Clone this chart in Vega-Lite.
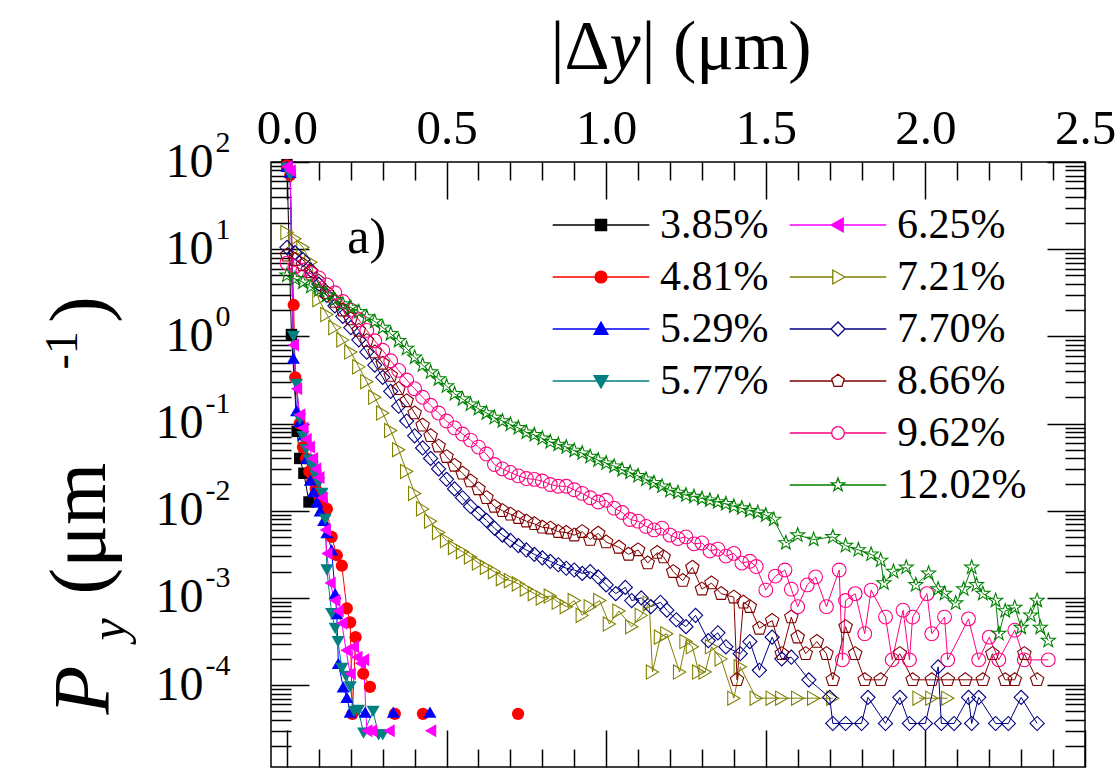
{
"$schema": "https://vega.github.io/schema/vega-lite/v6.json",
"width": 814, "height": 605,
"autosize": {"type": "none"},
"padding": {"left": 271, "top": 162, "right": 35, "bottom": 3},
"background": "white",
"config": {
  "view": {"stroke": "black", "strokeWidth": 1.5},
  "font": "Liberation Serif",
  "axis": {"grid": false, "domain": false, "labelFont": "Liberation Serif", "titleFont": "Liberation Serif", "labelColor": "black", "titleColor": "black", "tickColor": "black", "titleFontWeight": "normal"}
},
"data": {"values": [
{"s":"3.85%","x":0,"y":93.3},{"s":"3.85%","x":0.014,"y":1.05},{"s":"3.85%","x":0.032,"y":0.0813},{"s":"3.85%","x":0.04,"y":0.0398},{"s":"3.85%","x":0.053,"y":0.0269},{"s":"3.85%","x":0.069,"y":0.0126},
{"s":"4.81%","x":0,"y":91.2},{"s":"4.81%","x":0.01,"y":70.8},{"s":"4.81%","x":0.021,"y":2.29},{"s":"4.81%","x":0.026,"y":0.339},{"s":"4.81%","x":0.04,"y":0.1},{"s":"4.81%","x":0.05,"y":0.0537},{"s":"4.81%","x":0.06,"y":0.0398},{"s":"4.81%","x":0.07,"y":0.0282},{"s":"4.81%","x":0.08,"y":0.0224},{"s":"4.81%","x":0.09,"y":0.0178},{"s":"4.81%","x":0.1,"y":0.0151},{"s":"4.81%","x":0.11,"y":0.0126},{"s":"4.81%","x":0.125,"y":0.0105},{"s":"4.81%","x":0.14,"y":0.00501},{"s":"4.81%","x":0.156,"y":0.00309},{"s":"4.81%","x":0.172,"y":0.00234},{"s":"4.81%","x":0.1875,"y":0.000759},{"s":"4.81%","x":0.198,"y":0.000525},{"s":"4.81%","x":0.205,"y":0.0000468},{"s":"4.81%","x":0.215,"y":0.000355},{"s":"4.81%","x":0.239,"y":0.000135},{"s":"4.81%","x":0.26,"y":0.0000955},{"s":"4.81%","x":0.3,"y":null},{"s":"4.81%","x":0.338,"y":0.0000468},{"s":"4.81%","x":0.38,"y":null},{"s":"4.81%","x":0.426,"y":0.0000468},{"s":"4.81%","x":0.6,"y":null},{"s":"4.81%","x":0.724,"y":0.0000468},
{"s":"5.29%","x":0,"y":89.1},{"s":"5.29%","x":0.01,"y":75.9},{"s":"5.29%","x":0.02,"y":0.562},{"s":"5.29%","x":0.03,"y":0.141},{"s":"5.29%","x":0.04,"y":0.105},{"s":"5.29%","x":0.052,"y":0.0741},{"s":"5.29%","x":0.062,"y":0.0398},{"s":"5.29%","x":0.073,"y":0.0224},{"s":"5.29%","x":0.083,"y":0.0166},{"s":"5.29%","x":0.094,"y":0.0126},{"s":"5.29%","x":0.104,"y":0.01},{"s":"5.29%","x":0.115,"y":0.00776},{"s":"5.29%","x":0.125,"y":0.00562},{"s":"5.29%","x":0.14,"y":0.00355},{"s":"5.29%","x":0.151,"y":0.00112},{"s":"5.29%","x":0.156,"y":0.000661},{"s":"5.29%","x":0.161,"y":0.000178},{"s":"5.29%","x":0.176,"y":0.0000955},{"s":"5.29%","x":0.1875,"y":0.0000724},{"s":"5.29%","x":0.198,"y":0.000049},{"s":"5.29%","x":0.245,"y":0.000049},{"s":"5.29%","x":0.29,"y":null},{"s":"5.29%","x":0.333,"y":0.000049},{"s":"5.29%","x":0.39,"y":null},{"s":"5.29%","x":0.448,"y":0.000049},
{"s":"5.77%","x":0,"y":85.1},{"s":"5.77%","x":0.01,"y":70.8},{"s":"5.77%","x":0.02,"y":1.0},{"s":"5.77%","x":0.03,"y":0.282},{"s":"5.77%","x":0.04,"y":0.112},{"s":"5.77%","x":0.05,"y":0.0708},{"s":"5.77%","x":0.06,"y":0.0501},{"s":"5.77%","x":0.07,"y":0.038},{"s":"5.77%","x":0.08,"y":0.0316},{"s":"5.77%","x":0.09,"y":0.0251},{"s":"5.77%","x":0.1,"y":0.0209},{"s":"5.77%","x":0.11,"y":0.0158},{"s":"5.77%","x":0.12,"y":0.00794},{"s":"5.77%","x":0.125,"y":0.00209},{"s":"5.77%","x":0.14,"y":0.000661},{"s":"5.77%","x":0.151,"y":0.000447},{"s":"5.77%","x":0.16,"y":0.000316},{"s":"5.77%","x":0.172,"y":0.000155},{"s":"5.77%","x":0.185,"y":0.000126},{"s":"5.77%","x":0.198,"y":0.0000955},{"s":"5.77%","x":0.21,"y":0.0000501},{"s":"5.77%","x":0.224,"y":0.0000513},{"s":"5.77%","x":0.24,"y":0.0000282},{"s":"5.77%","x":0.27,"y":0.0000501},{"s":"5.77%","x":0.287,"y":0.0000269},{"s":"5.77%","x":0.3,"y":0.0000269},
{"s":"6.25%","x":0,"y":89},{"s":"6.25%","x":0.01,"y":79.4},{"s":"6.25%","x":0.02,"y":0.794},{"s":"6.25%","x":0.03,"y":0.251},{"s":"6.25%","x":0.04,"y":0.126},{"s":"6.25%","x":0.05,"y":0.0891},{"s":"6.25%","x":0.06,"y":0.0661},{"s":"6.25%","x":0.07,"y":0.0537},{"s":"6.25%","x":0.08,"y":0.0398},{"s":"6.25%","x":0.09,"y":0.0302},{"s":"6.25%","x":0.1,"y":0.024},{"s":"6.25%","x":0.11,"y":0.0141},{"s":"6.25%","x":0.12,"y":0.00603},{"s":"6.25%","x":0.125,"y":0.00324},{"s":"6.25%","x":0.135,"y":0.00148},{"s":"6.25%","x":0.15,"y":0.000933},{"s":"6.25%","x":0.16,"y":0.000708},{"s":"6.25%","x":0.172,"y":0.000513},{"s":"6.25%","x":0.185,"y":0.000251},{"s":"6.25%","x":0.198,"y":0.000135},{"s":"6.25%","x":0.208,"y":0.000275},{"s":"6.25%","x":0.219,"y":0.000209},{"s":"6.25%","x":0.23,"y":0.000178},{"s":"6.25%","x":0.24,"y":0.000195},{"s":"6.25%","x":0.25,"y":0.00003},{"s":"6.25%","x":0.265,"y":0.00003},{"s":"6.25%","x":0.29,"y":null},{"s":"6.25%","x":0.32,"y":0.00003},{"s":"6.25%","x":0.38,"y":null},{"s":"6.25%","x":0.45,"y":0.00003},
{"s":"7.21%","x":0,"y":15.5},{"s":"7.21%","x":0.025,"y":13.2},{"s":"7.21%","x":0.05,"y":10.5},{"s":"7.21%","x":0.075,"y":7.08},{"s":"7.21%","x":0.1,"y":2.63},{"s":"7.21%","x":0.125,"y":1.78},{"s":"7.21%","x":0.15,"y":1.26},{"s":"7.21%","x":0.175,"y":0.912},{"s":"7.21%","x":0.2,"y":0.661},{"s":"7.21%","x":0.225,"y":0.447},{"s":"7.21%","x":0.25,"y":0.302},{"s":"7.21%","x":0.275,"y":0.2},{"s":"7.21%","x":0.3,"y":0.132},{"s":"7.21%","x":0.325,"y":0.0832},{"s":"7.21%","x":0.35,"y":0.0501},{"s":"7.21%","x":0.375,"y":0.0282},{"s":"7.21%","x":0.4,"y":0.0158},{"s":"7.21%","x":0.425,"y":0.0105},{"s":"7.21%","x":0.45,"y":0.00759},{"s":"7.21%","x":0.475,"y":0.00562},{"s":"7.21%","x":0.5,"y":0.00457},{"s":"7.21%","x":0.525,"y":0.0038},{"s":"7.21%","x":0.55,"y":0.00339},{"s":"7.21%","x":0.575,"y":0.00295},{"s":"7.21%","x":0.6,"y":0.00251},{"s":"7.21%","x":0.625,"y":0.00224},{"s":"7.21%","x":0.65,"y":0.002},{"s":"7.21%","x":0.675,"y":0.00166},{"s":"7.21%","x":0.7,"y":0.00158},{"s":"7.21%","x":0.725,"y":0.00145},{"s":"7.21%","x":0.75,"y":0.00126},{"s":"7.21%","x":0.775,"y":0.00112},{"s":"7.21%","x":0.8,"y":0.001},{"s":"7.21%","x":0.825,"y":0.00105},{"s":"7.21%","x":0.85,"y":0.000891},{"s":"7.21%","x":0.875,"y":0.000794},{"s":"7.21%","x":0.9,"y":0.000933},{"s":"7.21%","x":0.925,"y":0.000631},{"s":"7.21%","x":0.95,"y":0.000794},{"s":"7.21%","x":0.98,"y":0.000933},{"s":"7.21%","x":1.01,"y":0.000501},{"s":"7.21%","x":1.04,"y":0.000708},{"s":"7.21%","x":1.08,"y":0.000468},{"s":"7.21%","x":1.11,"y":0.000631},{"s":"7.21%","x":1.135,"y":0.000871},{"s":"7.21%","x":1.145,"y":0.000141},{"s":"7.21%","x":1.17,"y":0.000355},{"s":"7.21%","x":1.19,"y":0.000389},{"s":"7.21%","x":1.23,"y":0.000141},{"s":"7.21%","x":1.25,"y":0.000316},{"s":"7.21%","x":1.27,"y":0.000275},{"s":"7.21%","x":1.29,"y":0.000141},{"s":"7.21%","x":1.31,"y":0.000141},{"s":"7.21%","x":1.33,"y":0.000275},{"s":"7.21%","x":1.36,"y":0.0002},{"s":"7.21%","x":1.4,"y":0.0000708},{"s":"7.21%","x":1.42,"y":0.000162},{"s":"7.21%","x":1.47,"y":0.0000708},{"s":"7.21%","x":1.52,"y":0.0000708},{"s":"7.21%","x":1.55,"y":0.0000708},{"s":"7.21%","x":1.6,"y":0.0000708},{"s":"7.21%","x":1.65,"y":0.0000708},{"s":"7.21%","x":1.71,"y":0.0000708},{"s":"7.21%","x":1.8,"y":null},{"s":"7.21%","x":1.98,"y":0.0000708},{"s":"7.21%","x":2.02,"y":0.0000708},{"s":"7.21%","x":2.07,"y":0.0000708},
{"s":"7.70%","x":0,"y":10.5},{"s":"7.70%","x":0.025,"y":9.12},{"s":"7.70%","x":0.05,"y":7.59},{"s":"7.70%","x":0.075,"y":5.75},{"s":"7.70%","x":0.1,"y":3.98},{"s":"7.70%","x":0.125,"y":2.95},{"s":"7.70%","x":0.15,"y":2.24},{"s":"7.70%","x":0.175,"y":1.7},{"s":"7.70%","x":0.2,"y":1.26},{"s":"7.70%","x":0.225,"y":0.912},{"s":"7.70%","x":0.25,"y":0.661},{"s":"7.70%","x":0.275,"y":0.468},{"s":"7.70%","x":0.3,"y":0.339},{"s":"7.70%","x":0.325,"y":0.234},{"s":"7.70%","x":0.35,"y":0.158},{"s":"7.70%","x":0.375,"y":0.107},{"s":"7.70%","x":0.4,"y":0.0724},{"s":"7.70%","x":0.425,"y":0.0525},{"s":"7.70%","x":0.45,"y":0.0398},{"s":"7.70%","x":0.475,"y":0.0302},{"s":"7.70%","x":0.5,"y":0.0229},{"s":"7.70%","x":0.525,"y":0.0178},{"s":"7.70%","x":0.55,"y":0.0141},{"s":"7.70%","x":0.575,"y":0.0112},{"s":"7.70%","x":0.6,"y":0.00933},{"s":"7.70%","x":0.625,"y":0.00776},{"s":"7.70%","x":0.65,"y":0.00631},{"s":"7.70%","x":0.675,"y":0.00525},{"s":"7.70%","x":0.7,"y":0.00457},{"s":"7.70%","x":0.725,"y":0.00398},{"s":"7.70%","x":0.75,"y":0.00355},{"s":"7.70%","x":0.775,"y":0.00316},{"s":"7.70%","x":0.8,"y":0.00288},{"s":"7.70%","x":0.825,"y":0.00263},{"s":"7.70%","x":0.85,"y":0.0024},{"s":"7.70%","x":0.875,"y":0.00219},{"s":"7.70%","x":0.9,"y":0.00209},{"s":"7.70%","x":0.925,"y":0.00191},{"s":"7.70%","x":0.95,"y":0.002},{"s":"7.70%","x":0.975,"y":0.00174},{"s":"7.70%","x":1.0,"y":0.00141},{"s":"7.70%","x":1.03,"y":0.00112},{"s":"7.70%","x":1.06,"y":0.00132},{"s":"7.70%","x":1.08,"y":0.000933},{"s":"7.70%","x":1.11,"y":0.001},{"s":"7.70%","x":1.14,"y":0.000794},{"s":"7.70%","x":1.17,"y":0.000891},{"s":"7.70%","x":1.19,"y":0.000724},{"s":"7.70%","x":1.22,"y":0.000562},{"s":"7.70%","x":1.25,"y":0.000468},{"s":"7.70%","x":1.28,"y":0.000631},{"s":"7.70%","x":1.32,"y":0.000324},{"s":"7.70%","x":1.35,"y":0.000398},{"s":"7.70%","x":1.375,"y":0.000275},{"s":"7.70%","x":1.42,"y":0.000229},{"s":"7.70%","x":1.45,"y":0.000316},{"s":"7.70%","x":1.48,"y":0.000148},{"s":"7.70%","x":1.52,"y":0.000355},{"s":"7.70%","x":1.55,"y":0.0002},{"s":"7.70%","x":1.58,"y":0.000209},{"s":"7.70%","x":1.635,"y":0.000115},{"s":"7.70%","x":1.7,"y":0.0000724},{"s":"7.70%","x":1.71,"y":0.0000363},{"s":"7.70%","x":1.75,"y":0.0000363},{"s":"7.70%","x":1.8,"y":0.0000363},{"s":"7.70%","x":1.82,"y":0.0000724},{"s":"7.70%","x":1.875,"y":0.0000363},{"s":"7.70%","x":1.92,"y":0.0000724},{"s":"7.70%","x":1.95,"y":0.0000363},{"s":"7.70%","x":2.0,"y":0.0000363},{"s":"7.70%","x":2.04,"y":0.000162},{"s":"7.70%","x":2.05,"y":0.0000363},{"s":"7.70%","x":2.09,"y":0.0000363},{"s":"7.70%","x":2.135,"y":0.0000724},{"s":"7.70%","x":2.145,"y":0.0000363},{"s":"7.70%","x":2.167,"y":0.0000724},{"s":"7.70%","x":2.22,"y":0.0000363},{"s":"7.70%","x":2.26,"y":0.0000363},{"s":"7.70%","x":2.3,"y":0.0000724},{"s":"7.70%","x":2.35,"y":0.0000363},
{"s":"8.66%","x":0,"y":8.51},{"s":"8.66%","x":0.025,"y":7.59},{"s":"8.66%","x":0.05,"y":6.61},{"s":"8.66%","x":0.075,"y":5.5},{"s":"8.66%","x":0.1,"y":4.27},{"s":"8.66%","x":0.125,"y":3.16},{"s":"8.66%","x":0.15,"y":2.51},{"s":"8.66%","x":0.175,"y":2.0},{"s":"8.66%","x":0.2,"y":1.58},{"s":"8.66%","x":0.225,"y":1.17},{"s":"8.66%","x":0.25,"y":0.891},{"s":"8.66%","x":0.275,"y":0.661},{"s":"8.66%","x":0.3,"y":0.49},{"s":"8.66%","x":0.325,"y":0.355},{"s":"8.66%","x":0.35,"y":0.251},{"s":"8.66%","x":0.375,"y":0.182},{"s":"8.66%","x":0.4,"y":0.132},{"s":"8.66%","x":0.425,"y":0.0955},{"s":"8.66%","x":0.45,"y":0.0724},{"s":"8.66%","x":0.475,"y":0.055},{"s":"8.66%","x":0.5,"y":0.0417},{"s":"8.66%","x":0.525,"y":0.0331},{"s":"8.66%","x":0.55,"y":0.0269},{"s":"8.66%","x":0.575,"y":0.0219},{"s":"8.66%","x":0.6,"y":0.0178},{"s":"8.66%","x":0.625,"y":0.0141},{"s":"8.66%","x":0.65,"y":0.0112},{"s":"8.66%","x":0.675,"y":0.01},{"s":"8.66%","x":0.7,"y":0.00912},{"s":"8.66%","x":0.725,"y":0.00832},{"s":"8.66%","x":0.75,"y":0.00759},{"s":"8.66%","x":0.775,"y":0.00708},{"s":"8.66%","x":0.8,"y":0.00646},{"s":"8.66%","x":0.825,"y":0.00631},{"s":"8.66%","x":0.85,"y":0.00575},{"s":"8.66%","x":0.875,"y":0.00562},{"s":"8.66%","x":0.9,"y":0.00525},{"s":"8.66%","x":0.925,"y":0.00575},{"s":"8.66%","x":0.95,"y":0.00468},{"s":"8.66%","x":0.975,"y":0.0055},{"s":"8.66%","x":1.0,"y":0.00437},{"s":"8.66%","x":1.04,"y":0.0038},{"s":"8.66%","x":1.07,"y":0.00316},{"s":"8.66%","x":1.1,"y":0.00355},{"s":"8.66%","x":1.13,"y":0.00251},{"s":"8.66%","x":1.16,"y":0.00331},{"s":"8.66%","x":1.18,"y":0.00295},{"s":"8.66%","x":1.21,"y":0.002},{"s":"8.66%","x":1.24,"y":0.00158},{"s":"8.66%","x":1.27,"y":0.00224},{"s":"8.66%","x":1.3,"y":0.00126},{"s":"8.66%","x":1.33,"y":0.00148},{"s":"8.66%","x":1.36,"y":0.00112},{"s":"8.66%","x":1.4,"y":0.00102},{"s":"8.66%","x":1.41,"y":0.000115},{"s":"8.66%","x":1.43,"y":0.000891},{"s":"8.66%","x":1.45,"y":0.000794},{"s":"8.66%","x":1.48,"y":0.000447},{"s":"8.66%","x":1.52,"y":0.00055},{"s":"8.66%","x":1.55,"y":0.000229},{"s":"8.66%","x":1.58,"y":0.000603},{"s":"8.66%","x":1.6,"y":0.000355},{"s":"8.66%","x":1.625,"y":0.000229},{"s":"8.66%","x":1.66,"y":0.000316},{"s":"8.66%","x":1.69,"y":0.000229},{"s":"8.66%","x":1.71,"y":0.000115},{"s":"8.66%","x":1.75,"y":0.000468},{"s":"8.66%","x":1.78,"y":0.000229},{"s":"8.66%","x":1.81,"y":0.000115},{"s":"8.66%","x":1.86,"y":0.000115},{"s":"8.66%","x":1.92,"y":0.000229},{"s":"8.66%","x":1.96,"y":0.000115},{"s":"8.66%","x":2.02,"y":0.000115},{"s":"8.66%","x":2.07,"y":0.000115},{"s":"8.66%","x":2.125,"y":0.000115},{"s":"8.66%","x":2.18,"y":0.000115},{"s":"8.66%","x":2.21,"y":0.000229},{"s":"8.66%","x":2.25,"y":0.000115},{"s":"8.66%","x":2.28,"y":0.000115},{"s":"8.66%","x":2.31,"y":0.000229},{"s":"8.66%","x":2.35,"y":0.000115},
{"s":"9.62%","x":0,"y":6.92},{"s":"9.62%","x":0.025,"y":6.31},{"s":"9.62%","x":0.05,"y":5.75},{"s":"9.62%","x":0.075,"y":5.25},{"s":"9.62%","x":0.1,"y":4.68},{"s":"9.62%","x":0.125,"y":3.89},{"s":"9.62%","x":0.15,"y":3.16},{"s":"9.62%","x":0.175,"y":2.51},{"s":"9.62%","x":0.2,"y":2.0},{"s":"9.62%","x":0.225,"y":1.55},{"s":"9.62%","x":0.25,"y":1.17},{"s":"9.62%","x":0.275,"y":0.891},{"s":"9.62%","x":0.3,"y":0.692},{"s":"9.62%","x":0.325,"y":0.525},{"s":"9.62%","x":0.35,"y":0.407},{"s":"9.62%","x":0.375,"y":0.316},{"s":"9.62%","x":0.4,"y":0.251},{"s":"9.62%","x":0.425,"y":0.2},{"s":"9.62%","x":0.45,"y":0.162},{"s":"9.62%","x":0.475,"y":0.132},{"s":"9.62%","x":0.5,"y":0.107},{"s":"9.62%","x":0.525,"y":0.0891},{"s":"9.62%","x":0.55,"y":0.0759},{"s":"9.62%","x":0.575,"y":0.0646},{"s":"9.62%","x":0.6,"y":0.0537},{"s":"9.62%","x":0.625,"y":0.0447},{"s":"9.62%","x":0.65,"y":0.0339},{"s":"9.62%","x":0.675,"y":0.0302},{"s":"9.62%","x":0.7,"y":0.0275},{"s":"9.62%","x":0.725,"y":0.0251},{"s":"9.62%","x":0.75,"y":0.0234},{"s":"9.62%","x":0.775,"y":0.0229},{"s":"9.62%","x":0.8,"y":0.0219},{"s":"9.62%","x":0.825,"y":0.02},{"s":"9.62%","x":0.85,"y":0.0191},{"s":"9.62%","x":0.875,"y":0.0191},{"s":"9.62%","x":0.9,"y":0.0174},{"s":"9.62%","x":0.925,"y":0.0158},{"s":"9.62%","x":0.95,"y":0.0141},{"s":"9.62%","x":0.975,"y":0.0126},{"s":"9.62%","x":1.0,"y":0.0132},{"s":"9.62%","x":1.025,"y":0.0107},{"s":"9.62%","x":1.05,"y":0.00955},{"s":"9.62%","x":1.075,"y":0.00794},{"s":"9.62%","x":1.1,"y":0.00759},{"s":"9.62%","x":1.125,"y":0.00661},{"s":"9.62%","x":1.15,"y":0.00603},{"s":"9.62%","x":1.175,"y":0.00631},{"s":"9.62%","x":1.2,"y":0.00525},{"s":"9.62%","x":1.225,"y":0.00479},{"s":"9.62%","x":1.25,"y":0.00501},{"s":"9.62%","x":1.275,"y":0.00417},{"s":"9.62%","x":1.3,"y":0.00427},{"s":"9.62%","x":1.325,"y":0.00347},{"s":"9.62%","x":1.35,"y":0.00363},{"s":"9.62%","x":1.375,"y":0.00302},{"s":"9.62%","x":1.4,"y":0.00324},{"s":"9.62%","x":1.425,"y":0.00251},{"s":"9.62%","x":1.45,"y":0.00263},{"s":"9.62%","x":1.47,"y":0.00229},{"s":"9.62%","x":1.5,"y":0.00123},{"s":"9.62%","x":1.53,"y":0.00178},{"s":"9.62%","x":1.56,"y":0.00209},{"s":"9.62%","x":1.58,"y":0.00126},{"s":"9.62%","x":1.6,"y":0.000794},{"s":"9.62%","x":1.63,"y":0.00141},{"s":"9.62%","x":1.656,"y":0.00174},{"s":"9.62%","x":1.69,"y":0.000794},{"s":"9.62%","x":1.73,"y":0.00209},{"s":"9.62%","x":1.74,"y":0.000195},{"s":"9.62%","x":1.75,"y":0.000933},{"s":"9.62%","x":1.78,"y":0.00112},{"s":"9.62%","x":1.81,"y":0.000389},{"s":"9.62%","x":1.83,"y":0.00123},{"s":"9.62%","x":1.875,"y":0.000603},{"s":"9.62%","x":1.896,"y":0.000195},{"s":"9.62%","x":1.93,"y":0.000724},{"s":"9.62%","x":1.95,"y":0.000195},{"s":"9.62%","x":1.96,"y":0.000603},{"s":"9.62%","x":2.005,"y":0.00112},{"s":"9.62%","x":2.02,"y":0.000389},{"s":"9.62%","x":2.06,"y":0.000603},{"s":"9.62%","x":2.07,"y":0.000195},{"s":"9.62%","x":2.135,"y":0.000575},{"s":"9.62%","x":2.167,"y":0.000195},{"s":"9.62%","x":2.2,"y":0.000355},{"s":"9.62%","x":2.23,"y":0.000195},{"s":"9.62%","x":2.28,"y":0.000427},{"s":"9.62%","x":2.31,"y":0.000195},{"s":"9.62%","x":2.385,"y":0.000195},
{"s":"12.02%","x":0,"y":5.01},{"s":"12.02%","x":0.025,"y":4.57},{"s":"12.02%","x":0.05,"y":4.17},{"s":"12.02%","x":0.075,"y":3.72},{"s":"12.02%","x":0.1,"y":3.39},{"s":"12.02%","x":0.125,"y":2.95},{"s":"12.02%","x":0.15,"y":2.63},{"s":"12.02%","x":0.175,"y":2.34},{"s":"12.02%","x":0.2,"y":2.14},{"s":"12.02%","x":0.225,"y":1.91},{"s":"12.02%","x":0.25,"y":1.66},{"s":"12.02%","x":0.275,"y":1.48},{"s":"12.02%","x":0.3,"y":1.26},{"s":"12.02%","x":0.325,"y":1.07},{"s":"12.02%","x":0.35,"y":0.891},{"s":"12.02%","x":0.375,"y":0.724},{"s":"12.02%","x":0.4,"y":0.575},{"s":"12.02%","x":0.425,"y":0.468},{"s":"12.02%","x":0.45,"y":0.389},{"s":"12.02%","x":0.475,"y":0.324},{"s":"12.02%","x":0.5,"y":0.269},{"s":"12.02%","x":0.525,"y":0.219},{"s":"12.02%","x":0.55,"y":0.191},{"s":"12.02%","x":0.575,"y":0.166},{"s":"12.02%","x":0.6,"y":0.148},{"s":"12.02%","x":0.625,"y":0.132},{"s":"12.02%","x":0.65,"y":0.117},{"s":"12.02%","x":0.675,"y":0.107},{"s":"12.02%","x":0.7,"y":0.0977},{"s":"12.02%","x":0.725,"y":0.0891},{"s":"12.02%","x":0.75,"y":0.0794},{"s":"12.02%","x":0.775,"y":0.0741},{"s":"12.02%","x":0.8,"y":0.0676},{"s":"12.02%","x":0.825,"y":0.0617},{"s":"12.02%","x":0.85,"y":0.0575},{"s":"12.02%","x":0.875,"y":0.0537},{"s":"12.02%","x":0.9,"y":0.049},{"s":"12.02%","x":0.925,"y":0.0457},{"s":"12.02%","x":0.95,"y":0.0417},{"s":"12.02%","x":0.975,"y":0.038},{"s":"12.02%","x":1.0,"y":0.0351},{"s":"12.02%","x":1.025,"y":0.0324},{"s":"12.02%","x":1.05,"y":0.0295},{"s":"12.02%","x":1.075,"y":0.0275},{"s":"12.02%","x":1.1,"y":0.0251},{"s":"12.02%","x":1.125,"y":0.0229},{"s":"12.02%","x":1.15,"y":0.0209},{"s":"12.02%","x":1.175,"y":0.0191},{"s":"12.02%","x":1.2,"y":0.017},{"s":"12.02%","x":1.225,"y":0.0162},{"s":"12.02%","x":1.25,"y":0.0151},{"s":"12.02%","x":1.275,"y":0.0145},{"s":"12.02%","x":1.3,"y":0.0138},{"s":"12.02%","x":1.325,"y":0.0132},{"s":"12.02%","x":1.35,"y":0.0126},{"s":"12.02%","x":1.375,"y":0.012},{"s":"12.02%","x":1.4,"y":0.0112},{"s":"12.02%","x":1.425,"y":0.0107},{"s":"12.02%","x":1.45,"y":0.01},{"s":"12.02%","x":1.475,"y":0.00955},{"s":"12.02%","x":1.5,"y":0.00891},{"s":"12.02%","x":1.525,"y":0.00794},{"s":"12.02%","x":1.563,"y":0.00427},{"s":"12.02%","x":1.6,"y":0.00525},{"s":"12.02%","x":1.65,"y":0.00468},{"s":"12.02%","x":1.71,"y":0.00501},{"s":"12.02%","x":1.75,"y":0.00398},{"s":"12.02%","x":1.79,"y":0.00355},{"s":"12.02%","x":1.83,"y":0.00316},{"s":"12.02%","x":1.86,"y":0.00269},{"s":"12.02%","x":1.87,"y":0.00148},{"s":"12.02%","x":1.9,"y":0.002},{"s":"12.02%","x":1.94,"y":0.00224},{"s":"12.02%","x":1.97,"y":0.00141},{"s":"12.02%","x":2.01,"y":0.00191},{"s":"12.02%","x":2.04,"y":0.00126},{"s":"12.02%","x":2.06,"y":0.00112},{"s":"12.02%","x":2.095,"y":0.000871},{"s":"12.02%","x":2.12,"y":0.00126},{"s":"12.02%","x":2.145,"y":0.00224},{"s":"12.02%","x":2.16,"y":0.00141},{"s":"12.02%","x":2.18,"y":0.00112},{"s":"12.02%","x":2.22,"y":0.000933},{"s":"12.02%","x":2.23,"y":0.000389},{"s":"12.02%","x":2.25,"y":0.000708},{"s":"12.02%","x":2.28,"y":0.000776},{"s":"12.02%","x":2.3,"y":0.000457},{"s":"12.02%","x":2.33,"y":0.000631},{"s":"12.02%","x":2.35,"y":0.000933},{"s":"12.02%","x":2.36,"y":0.000457},{"s":"12.02%","x":2.385,"y":0.000324}
]},
"layer": [
{
  "transform": [{"filter": "datum.x === 0"}],
  "mark": {"type": "point", "opacity": 0, "strokeWidth": 1.3},
  "encoding": {
    "x": {"field": "x", "type": "quantitative", "scale": {"type": "linear", "domain": [-0.05, 2.5], "nice": false, "zero": false}, "axis": null},
    "y": {"field": "y", "type": "quantitative", "scale": {"type": "log", "domain": [0.0000115, 100], "nice": false}, "axis": null},
    "stroke": {"field": "s", "type": "nominal",
      "scale": {"domain": ["3.85%","4.81%","5.29%","5.77%"," ","  ","6.25%","7.21%","7.70%","8.66%","9.62%","12.02%"], "range": ["#000000","#FF0000","#0000FF","#008080","transparent","transparent","#FF00FF","#808000","#000080","#800000","#FF0080","#008000"]},
      "legend": {"orient": "none", "legendX": 282, "legendY": 42, "columns": 2, "direction": "vertical", "title": null, "padding": 0, "symbolSize": 196, "symbolStrokeWidth": 1.3, "symbolOpacity": 1, "symbolOffset": 27, "labelOffset": 38, "labelFont": "Liberation Serif", "labelFontSize": 42, "labelColor": "black", "labelLimit": 400, "labelBaseline": "middle", "rowPadding": 10, "columnPadding": 18, "gridAlign": "each"}},
    "fill": {"field": "s", "type": "nominal",
      "scale": {"domain": ["3.85%","4.81%","5.29%","5.77%"," ","  ","6.25%","7.21%","7.70%","8.66%","9.62%","12.02%"], "range": ["#000000","#FF0000","#0000FF","#008080","transparent","transparent","#FF00FF","transparent","transparent","transparent","transparent","transparent"]},
      "legend": {"orient": "none", "legendX": 282, "legendY": 42, "columns": 2, "direction": "vertical", "title": null, "padding": 0, "symbolSize": 196, "symbolStrokeWidth": 1.3, "symbolOpacity": 1, "symbolOffset": 27, "labelOffset": 38, "labelFont": "Liberation Serif", "labelFontSize": 42, "labelColor": "black", "labelLimit": 400, "labelBaseline": "middle", "rowPadding": 10, "columnPadding": 18, "gridAlign": "each"}},
    "shape": {"field": "s", "type": "nominal",
      "scale": {"domain": ["3.85%","4.81%","5.29%","5.77%"," ","  ","6.25%","7.21%","7.70%","8.66%","9.62%","12.02%"], "range": [
        "M-6.9,0L6.9,0M-0.8,-0.8L0.8,-0.8L0.8,0.8L-0.8,0.8Z",
        "M-6.9,0L6.9,0M0.85,0A0.85,0.85,0,1,1,-0.85,0A0.85,0.85,0,1,1,0.85,0Z",
        "M-6.9,0L6.9,0M0,-1L1,0.75L-1,0.75Z",
        "M-6.9,0L6.9,0M0,1L1,-0.75L-1,-0.75Z",
        "M0,0",
        "M0,0",
        "M-6.9,0L6.9,0M-1,0L0.75,-1L0.75,1Z",
        "M-6.9,0L-0.75,0M1,0L6.9,0M1,0L-0.75,-1L-0.75,1Z",
        "M-6.9,0L-1,0M1,0L6.9,0M0,-1L1,0L0,1L-1,0Z",
        "M-6.9,0L-0.81,0M0.81,0L6.9,0M0,-0.95L0.9,-0.29L0.56,0.77L-0.56,0.77L-0.9,-0.29Z",
        "M-6.9,0L-0.9,0M0.9,0L6.9,0M0.9,0A0.9,0.9,0,1,1,-0.9,0A0.9,0.9,0,1,1,0.9,0Z",
        "M-6.9,0L-0.54,0M0.54,0L6.9,0M0,-1L0.235,-0.324L0.951,-0.309L0.38,0.124L0.588,0.809L0,0.4L-0.588,0.809L-0.38,0.124L-0.951,-0.309L-0.235,-0.324Z"]},
      "legend": {"orient": "none", "legendX": 282, "legendY": 42, "columns": 2, "direction": "vertical", "title": null, "padding": 0, "symbolSize": 196, "symbolStrokeWidth": 1.3, "symbolOpacity": 1, "symbolOffset": 27, "labelOffset": 38, "labelFont": "Liberation Serif", "labelFontSize": 42, "labelColor": "black", "labelLimit": 400, "labelBaseline": "middle", "rowPadding": 10, "columnPadding": 18, "gridAlign": "each"}}
  }
},
{
  "transform": [{"filter": {"field": "s", "oneOf": ["3.85%","4.81%","5.29%","5.77%","6.25%"]}}],
  "mark": {"type": "line", "strokeWidth": 1, "invalid": "break-paths-filter-domains"},
  "encoding": {
    "x": {"field": "x", "type": "quantitative", "scale": {"type": "linear", "domain": [-0.05, 2.5], "nice": false, "zero": false},
      "axis": {"orient": "top", "values": [0,0.5,1,1.5,2,2.5], "format": ".1f", "ticks": false, "domain": false, "labelFontSize": 49, "labelPadding": 19, "labelBaseline": "alphabetic", "labelFlush": false, "labelOverlap": false, "labelBound": false,
        "title": "|Δ", "titleFontSize": 70, "titleBaseline": "alphabetic", "titleAlign": "left", "titleAngle": 0, "titleX": 279, "titleY": -94}},
    "y": {"field": "y", "type": "quantitative", "scale": {"type": "log", "domain": [0.0000115, 100], "nice": false},
      "axis": {"orient": "left", "values": [0.0001,0.001,0.01,0.1,1,10,100], "labelExpr": "'10'", "ticks": false, "domain": false, "labelFontSize": 48, "labelAlign": "right", "labelBaseline": "middle",
        "labelPadding": {"condition": {"test": "datum.value < 0.5", "value": 68}, "value": 58},
        "title": "P", "titleFontStyle": "italic", "titleFontSize": 80, "titleAngle": 270, "titleAlign": "left", "titleBaseline": "alphabetic", "titleX": -163, "titleY": 552}},
    "stroke": {"field": "s", "type": "nominal",
      "scale": {"domain": ["3.85%","4.81%","5.29%","5.77%"," ","  ","6.25%","7.21%","7.70%","8.66%","9.62%","12.02%"], "range": ["#000000","#FF0000","#0000FF","#008080","transparent","transparent","#FF00FF","#808000","#000080","#800000","#FF0080","#008000"]},
      "legend": null}
  }
},
{
  "transform": [{"filter": {"field": "s", "oneOf": ["7.21%","7.70%","8.66%","9.62%","12.02%"]}}],
  "mark": {"type": "line", "strokeWidth": 1, "invalid": "break-paths-filter-domains"},
  "encoding": {
    "x": {"field": "x", "type": "quantitative", "scale": {"type": "linear", "domain": [-0.05, 2.5], "nice": false, "zero": false},
      "axis": {"orient": "top", "values": [0,0.1,0.2,0.3,0.4,0.5,0.6,0.7,0.8,0.9,1,1.1,1.2,1.3,1.4,1.5,1.6,1.7,1.8,1.9,2,2.1,2.2,2.3,2.4,2.5], "labels": false, "domain": false, "ticks": true, "tickWidth": 1.5,
        "tickSize": {"condition": {"test": "abs(datum.value*2 - round(datum.value*2)) < 0.001", "value": -37}, "value": -18},
        "title": "y", "titleFontStyle": "italic", "titleFontSize": 70, "titleBaseline": "alphabetic", "titleAlign": "left", "titleAngle": 0, "titleX": 338, "titleY": -94}},
    "y": {"field": "y", "type": "quantitative", "scale": {"type": "log", "domain": [0.0000115, 100], "nice": false},
      "axis": {"orient": "left", "values": [0.0001,0.001,0.01,0.1,1,10,100], "labelExpr": "(datum.value < 0.5 ? '-' : '') + round(abs(log(datum.value)/LN10))", "ticks": false, "domain": false, "labelFontSize": 30, "labelAlign": "right", "labelBaseline": "middle", "labelPadding": 41, "labelOffset": -20,
        "title": "y", "titleFontStyle": "italic", "titleFontSize": 50, "titleAngle": 270, "titleAlign": "left", "titleBaseline": "alphabetic", "titleX": -147, "titleY": 478}},
    "stroke": {"field": "s", "type": "nominal",
      "scale": {"domain": ["3.85%","4.81%","5.29%","5.77%"," ","  ","6.25%","7.21%","7.70%","8.66%","9.62%","12.02%"], "range": ["#000000","#FF0000","#0000FF","#008080","transparent","transparent","#FF00FF","#808000","#000080","#800000","#FF0080","#008000"]},
      "legend": null}
  }
},
{
  "transform": [{"filter": {"field": "s", "equal": "3.85%"}}],
  "mark": {"type": "point", "shape": "square", "filled": true, "color": "#000000", "size": 130, "opacity": 1},
  "encoding": {
    "x": {"field": "x", "type": "quantitative", "scale": {"type": "linear", "domain": [-0.05, 2.5], "nice": false, "zero": false},
      "axis": {"orient": "bottom", "values": [0,0.1,0.2,0.3,0.4,0.5,0.6,0.7,0.8,0.9,1,1.1,1.2,1.3,1.4,1.5,1.6,1.7,1.8,1.9,2,2.1,2.2,2.3,2.4,2.5], "labels": false, "domain": false, "ticks": true, "tickWidth": 1.5,
        "tickSize": {"condition": {"test": "abs(datum.value*2 - round(datum.value*2)) < 0.001", "value": -37}, "value": -18},
        "title": "| (μm)", "titleFontSize": 70, "titleBaseline": "alphabetic", "titleAlign": "left", "titleAngle": 0, "titleX": 370, "titleY": -699}},
    "y": {"field": "y", "type": "quantitative", "scale": {"type": "log", "domain": [0.0000115, 100], "nice": false},
      "axis": {"orient": "left", "values": [0.00002,0.00003,0.00004,0.00005,0.00006,0.00007,0.00008,0.00009,0.0001,0.0002,0.0003,0.0004,0.0005,0.0006,0.0007,0.0008,0.0009,0.001,0.002,0.003,0.004,0.005,0.006,0.007,0.008,0.009,0.01,0.02,0.03,0.04,0.05,0.06,0.07,0.08,0.09,0.1,0.2,0.3,0.4,0.5,0.6,0.7,0.8,0.9,1,2,3,4,5,6,7,8,9,10,20,30,40,50,60,70,80,90,100],
        "labels": false, "domain": false, "ticks": true, "tickWidth": 1.5,
        "tickSize": {"condition": {"test": "abs(log(datum.value)/LN10 - round(log(datum.value)/LN10)) < 0.001", "value": -38}, "value": -20},
        "title": "(μm\u00a0\u00a0\u00a0\u00a0\u00a0\u00a0\u00a0)", "titleLimit": 1000, "titleFontSize": 80, "titleAngle": 270, "titleAlign": "left", "titleBaseline": "alphabetic", "titleX": -167, "titleY": 432}}
  }
},
{
  "transform": [{"filter": {"field": "s", "equal": "4.81%"}}],
  "mark": {"type": "point", "shape": "circle", "filled": true, "color": "#FF0000", "size": 150, "opacity": 1},
  "encoding": {
    "x": {"field": "x", "type": "quantitative", "scale": {"type": "linear", "domain": [-0.05, 2.5], "nice": false, "zero": false}, "axis": null},
    "y": {"field": "y", "type": "quantitative", "scale": {"type": "log", "domain": [0.0000115, 100], "nice": false},
      "axis": {"orient": "right", "values": [0.00002,0.00003,0.00004,0.00005,0.00006,0.00007,0.00008,0.00009,0.0001,0.0002,0.0003,0.0004,0.0005,0.0006,0.0007,0.0008,0.0009,0.001,0.002,0.003,0.004,0.005,0.006,0.007,0.008,0.009,0.01,0.02,0.03,0.04,0.05,0.06,0.07,0.08,0.09,0.1,0.2,0.3,0.4,0.5,0.6,0.7,0.8,0.9,1,2,3,4,5,6,7,8,9,10,20,30,40,50,60,70,80,90,100],
        "labels": false, "domain": false, "ticks": true, "tickWidth": 1.5,
        "tickSize": {"condition": {"test": "abs(log(datum.value)/LN10 - round(log(datum.value)/LN10)) < 0.001", "value": -38}, "value": -20},
        "title": "-1", "titleFontSize": 46, "titleAngle": 270, "titleAlign": "left", "titleBaseline": "alphabetic", "titleX": -1009, "titleY": 207}}
  }
},
{
  "transform": [{"filter": {"field": "s", "equal": "5.29%"}}],
  "mark": {"type": "point", "shape": "triangle-up", "filled": true, "color": "#0000FF", "size": 170, "opacity": 1},
  "encoding": {
    "x": {"field": "x", "type": "quantitative", "scale": {"type": "linear", "domain": [-0.05, 2.5], "nice": false, "zero": false}, "axis": null},
    "y": {"field": "y", "type": "quantitative", "scale": {"type": "log", "domain": [0.0000115, 100], "nice": false}, "axis": null}
  }
},
{
  "transform": [{"filter": {"field": "s", "equal": "5.77%"}}],
  "mark": {"type": "point", "shape": "triangle-down", "filled": true, "color": "#008080", "size": 170, "opacity": 1},
  "encoding": {
    "x": {"field": "x", "type": "quantitative", "scale": {"type": "linear", "domain": [-0.05, 2.5], "nice": false, "zero": false}, "axis": null},
    "y": {"field": "y", "type": "quantitative", "scale": {"type": "log", "domain": [0.0000115, 100], "nice": false}, "axis": null}
  }
},
{
  "transform": [{"filter": {"field": "s", "equal": "6.25%"}}],
  "mark": {"type": "point", "shape": "triangle-left", "filled": true, "color": "#FF00FF", "size": 170, "opacity": 1},
  "encoding": {
    "x": {"field": "x", "type": "quantitative", "scale": {"type": "linear", "domain": [-0.05, 2.5], "nice": false, "zero": false}, "axis": null},
    "y": {"field": "y", "type": "quantitative", "scale": {"type": "log", "domain": [0.0000115, 100], "nice": false}, "axis": null}
  }
},
{
  "transform": [{"filter": {"field": "s", "equal": "7.21%"}}],
  "mark": {"type": "point", "shape": "triangle-right", "filled": false, "color": "#808000", "size": 200, "strokeWidth": 1.1, "opacity": 1},
  "encoding": {
    "x": {"field": "x", "type": "quantitative", "scale": {"type": "linear", "domain": [-0.05, 2.5], "nice": false, "zero": false}, "axis": null},
    "y": {"field": "y", "type": "quantitative", "scale": {"type": "log", "domain": [0.0000115, 100], "nice": false}, "axis": null}
  }
},
{
  "transform": [{"filter": {"field": "s", "equal": "7.70%"}}],
  "mark": {"type": "point", "shape": "diamond", "filled": false, "color": "#000080", "size": 200, "strokeWidth": 1.1, "opacity": 1},
  "encoding": {
    "x": {"field": "x", "type": "quantitative", "scale": {"type": "linear", "domain": [-0.05, 2.5], "nice": false, "zero": false}, "axis": null},
    "y": {"field": "y", "type": "quantitative", "scale": {"type": "log", "domain": [0.0000115, 100], "nice": false}, "axis": null}
  }
},
{
  "transform": [{"filter": {"field": "s", "equal": "8.66%"}}],
  "mark": {"type": "point", "shape": "M0,-1L0.951,-0.309L0.588,0.809L-0.588,0.809L-0.951,-0.309Z", "filled": false, "color": "#800000", "size": 200, "strokeWidth": 1.1, "opacity": 1},
  "encoding": {
    "x": {"field": "x", "type": "quantitative", "scale": {"type": "linear", "domain": [-0.05, 2.5], "nice": false, "zero": false}, "axis": null},
    "y": {"field": "y", "type": "quantitative", "scale": {"type": "log", "domain": [0.0000115, 100], "nice": false}, "axis": null}
  }
},
{
  "transform": [{"filter": {"field": "s", "equal": "9.62%"}}],
  "mark": {"type": "point", "shape": "circle", "filled": false, "color": "#FF0080", "size": 190, "strokeWidth": 1.1, "opacity": 1},
  "encoding": {
    "x": {"field": "x", "type": "quantitative", "scale": {"type": "linear", "domain": [-0.05, 2.5], "nice": false, "zero": false}, "axis": null},
    "y": {"field": "y", "type": "quantitative", "scale": {"type": "log", "domain": [0.0000115, 100], "nice": false}, "axis": null}
  }
},
{
  "transform": [{"filter": {"field": "s", "equal": "12.02%"}}],
  "mark": {"type": "point", "shape": "M0,-1L0.235,-0.324L0.951,-0.309L0.38,0.124L0.588,0.809L0,0.4L-0.588,0.809L-0.38,0.124L-0.951,-0.309L-0.235,-0.324Z", "filled": false, "color": "#008000", "size": 220, "strokeWidth": 1.1, "opacity": 1},
  "encoding": {
    "x": {"field": "x", "type": "quantitative", "scale": {"type": "linear", "domain": [-0.05, 2.5], "nice": false, "zero": false}, "axis": null},
    "y": {"field": "y", "type": "quantitative", "scale": {"type": "log", "domain": [0.0000115, 100], "nice": false}, "axis": null}
  }
},
{
  "data": {"values": [{"label": "a)"}]},
  "mark": {"type": "text", "font": "Liberation Serif", "fontSize": 50, "align": "center", "baseline": "middle", "color": "black"},
  "encoding": {
    "x": {"datum": 0.25, "type": "quantitative", "scale": {"type": "linear", "domain": [-0.05, 2.5], "nice": false, "zero": false}, "axis": null},
    "y": {"datum": 13.4, "type": "quantitative", "scale": {"type": "log", "domain": [0.0000115, 100], "nice": false}, "axis": null},
    "text": {"field": "label"}
  }
}
],
"resolve": {"scale": {"x": "shared", "y": "shared"}, "axis": {"x": "independent", "y": "independent"}}
}
